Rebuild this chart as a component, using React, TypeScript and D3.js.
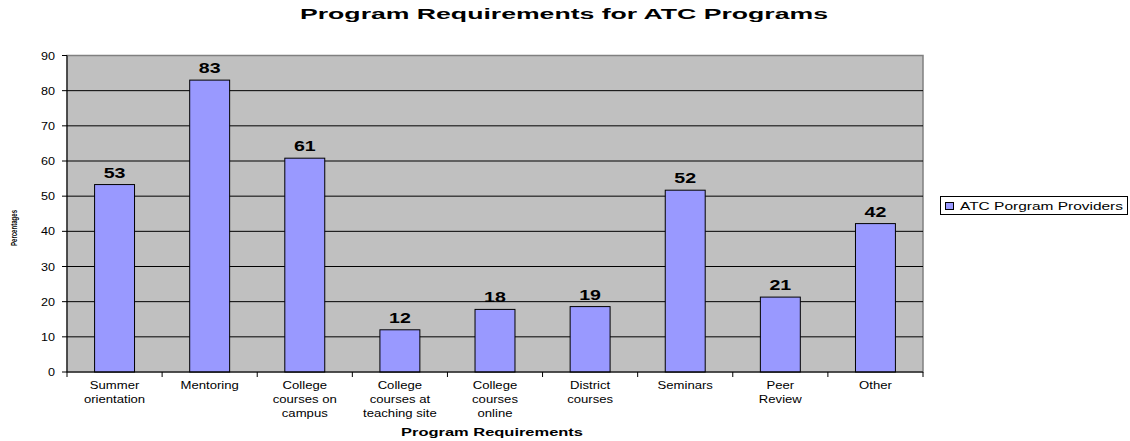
import React from "react";
import * as d3 from "d3";

const categories: string[][] = [
  ["Summer", "orientation"],
  ["Mentoring"],
  ["College", "courses on", "campus"],
  ["College", "courses at", "teaching site"],
  ["College", "courses", "online"],
  ["District", "courses"],
  ["Seminars"],
  ["Peer", "Review"],
  ["Other"],
];
const values: number[] = [53.3, 83, 60.8, 12, 17.8, 18.6, 51.7, 21.3, 42.2];
const labels: string[] = ["53", "83", "61", "12", "18", "19", "52", "21", "42"];
const yTicks: number[] = [0, 10, 20, 30, 40, 50, 60, 70, 80, 90];
const seriesName = "ATC Porgram Providers";
const title = "Program Requirements for ATC Programs";
const xTitle = "Program Requirements";
const yTitle = "Percentages";

const W = 1130;
const H = 441;
const left = 67;
const right = 923;
const top = 55.5;
const bottom = 372;
const font = "Arial, 'Liberation Sans', sans-serif";

function SText(props: {
  x: number;
  y: number;
  sx: number;
  size: number;
  bold?: boolean;
  anchor?: "start" | "middle" | "end";
  children: React.ReactNode;
}) {
  const { x, y, sx, size, bold, anchor, children } = props;
  return (
    <text
      transform={`translate(${x},${y}) scale(${sx},1)`}
      fontSize={size}
      fontWeight={bold ? "bold" : "normal"}
      textAnchor={anchor || "start"}
    >
      {children}
    </text>
  );
}

export default function App() {
  const keys = categories.map((_, i) => String(i));
  const x = d3.scaleBand<string>().domain(keys).range([left, right]).paddingInner(0).paddingOuter(0);
  const y = d3.scaleLinear().domain([0, 90]).range([bottom, top]);
  const bw = x.bandwidth();
  const barW = bw * 0.42;

  return (
    <svg width={W} height={H} style={{ position: "absolute", left: 0, top: 0 }} fontFamily={font}>
      <rect x={0} y={0} width={W} height={H} fill="#fff" />
      <text
        x={564}
        y={19}
        textAnchor="middle"
        fontWeight="bold"
        fontSize={14}
        textLength={528}
        lengthAdjust="spacingAndGlyphs"
      >
        {title}
      </text>
      <rect x={left} y={top} width={right - left} height={bottom - top} fill="#c0c0c0" stroke="#808080" strokeWidth={1.5} />
      {yTicks.filter((t) => t > 0 && t < 90).map((t) => (
        <line key={t} x1={left} x2={right} y1={y(t)} y2={y(t)} stroke="#000" strokeWidth={1} />
      ))}
      {values.map((v, i) => {
        const cx = (x(String(i)) as number) + bw / 2;
        return (
          <g key={i}>
            <rect x={cx - barW / 2} y={y(v)} width={barW} height={bottom - y(v)} fill="#9999ff" stroke="#000" strokeWidth={1} />
            <SText x={cx} y={y(v) - 7} sx={1.4} size={14} bold anchor="middle">
              {labels[i]}
            </SText>
          </g>
        );
      })}
      {/* y axis */}
      <line x1={left} x2={left} y1={top} y2={bottom} stroke="#000" strokeWidth={1} />
      {yTicks.map((t) => (
        <g key={t}>
          <line x1={left - 5} x2={left} y1={y(t)} y2={y(t)} stroke="#000" />
          <SText x={left - 12} y={y(t) + 4} sx={1.2} size={10.5} anchor="end">
            {t}
          </SText>
        </g>
      ))}
      {/* x axis */}
      <line x1={left} x2={right} y1={bottom} y2={bottom} stroke="#000" strokeWidth={1} />
      {keys.concat(["end"]).map((k, i) => {
        const xx = k === "end" ? right : (x(k) as number);
        return <line key={i} x1={xx} x2={xx} y1={bottom} y2={bottom + 5} stroke="#000" />;
      })}
      {categories.map((lines, i) => {
        const cx = (x(String(i)) as number) + bw / 2;
        return (
          <g key={i}>
            {lines.map((l, j) => (
              <SText key={j} x={cx} y={389 + j * 14} sx={1.25} size={10.5} anchor="middle">
                {l}
              </SText>
            ))}
          </g>
        );
      })}
      <text
        x={492}
        y={436}
        textAnchor="middle"
        fontWeight="bold"
        fontSize={10.5}
        textLength={182}
        lengthAdjust="spacingAndGlyphs"
      >
        {xTitle}
      </text>
      <text
        transform={`translate(17, 228) rotate(-90)`}
        textAnchor="middle"
        fontWeight="bold"
        fontSize={9}
        textLength={36}
        lengthAdjust="spacingAndGlyphs"
      >
        {yTitle}
      </text>
      {/* legend */}
      <rect x={940.5} y={196.5} width={187} height={18} fill="#fff" stroke="#000" />
      <rect x={945.5} y={202.5} width={8} height={7} fill="#9999ff" stroke="#000" />
      <text x={960} y={210} fontSize={10.5} textLength={163} lengthAdjust="spacingAndGlyphs">
        {seriesName}
      </text>
    </svg>
  );
}
